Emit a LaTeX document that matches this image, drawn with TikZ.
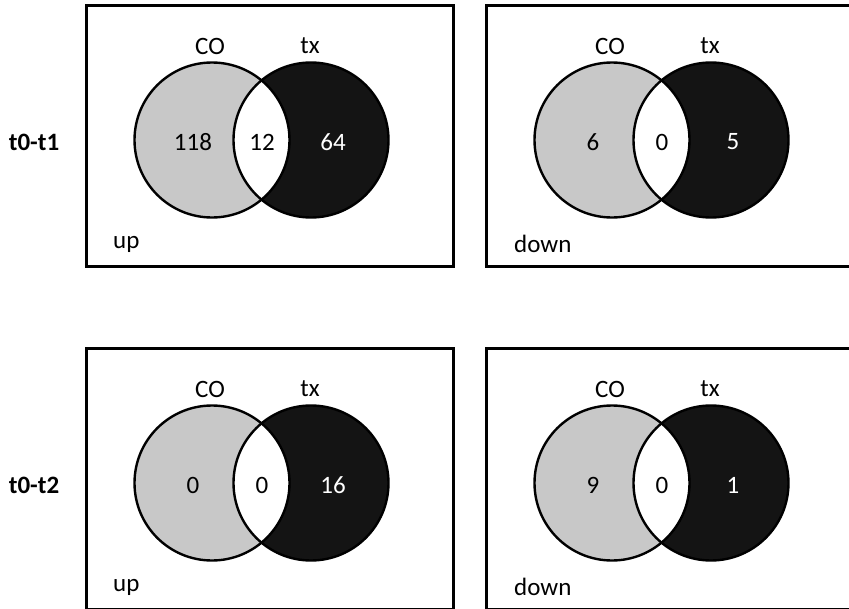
\documentclass[tikz,border=0pt]{standalone}
\usepackage{fontspec}
\setmainfont{Carlito}
\definecolor{vgray}{HTML}{C8C8C8}
\definecolor{vblack}{HTML}{141414}
\tikzset{
  panel/.style={draw=black, line width=3pt},
  ring/.style={draw=black, line width=2.4pt},
  lbl/.style={font=\fontsize{25}{28}\selectfont, inner sep=0pt},
  rowlbl/.style={font=\fontsize{25}{28}\selectfont\bfseries, inner sep=0pt},
}
\newcommand\vennpanel[9]{%
  \begin{scope}[shift={(#2,#3)}]
    \draw[panel] (0,0) rectangle (367,261);
    \coordinate (#1L) at (126,135);
    \coordinate (#1R) at (225,135);
    \fill[vgray] (#1L) circle[radius=77.5];
    \fill[vblack] (#1R) circle[radius=77.5];
    \begin{scope}
      \clip (#1L) circle[radius=77.5];
      \fill[white] (#1R) circle[radius=77.5];
    \end{scope}
    \draw[ring] (#1L) circle[radius=77.5];
    \draw[ring] (#1R) circle[radius=77.5];
    \node[lbl] (#1co) at (124,41) {CO};
    \node[lbl] (#1tx) at (224,41) {tx};
    \node[lbl] (#1a) at (107,137) {#4};
    \node[lbl] (#1b) at (176,137) {#5};
    \node[lbl, text=white] (#1c) at (247,137) {#6};
    \node[lbl, anchor=base west] (#1dir) at (#8,#9) {#7};
  \end{scope}}
\begin{document}
\begin{tikzpicture}[x=1pt,y=-1pt]
  \useasboundingbox (0,0) rectangle (849,608);
  \clip (0,0) rectangle (849,608);
  \fill[white] (0,0) rectangle (849,608);
  \node[rowlbl] (r1) at (34,142) {t0-t1};
  \node[rowlbl] (r2) at (34,485) {t0-t2};
  \vennpanel{pa}{86}{5}{118}{12}{64}{up}{27}{243}
  \vennpanel{pb}{486}{5}{6}{0}{5}{down}{28}{247}
  \vennpanel{pc}{86}{348}{0}{0}{16}{up}{27}{243}
  \vennpanel{pd}{486}{348}{9}{0}{1}{down}{28}{247}
\end{tikzpicture}
\end{document}
